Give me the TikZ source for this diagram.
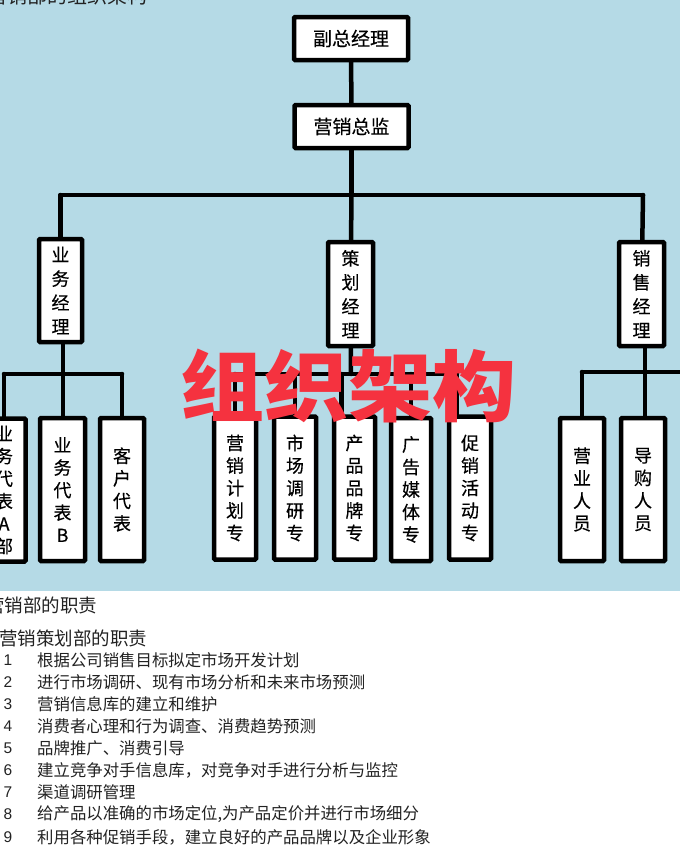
\documentclass[tikz,border=0pt]{standalone}
\usepackage{fontspec}
\setmainfont{Noto Sans CJK SC}
\newfontfamily\boxfont[FakeBold = 0.3]{Noto Sans CJK SC}
\newfontfamily\digitfont{Liberation Sans}
\usetikzlibrary{positioning}
\definecolor{sky}{HTML}{B5DAE6}
\definecolor{stamp}{HTML}{F5323F}
\definecolor{ink}{HTML}{222222}

\begin{document}
\begin{tikzpicture}[x = 1pt, y = -1pt]

\tikzset{
wide/.style = {rectangle, draw, fill = white, line width = 4.5pt, rounded corners = 1pt,
	inner sep = 0pt, minimum width = 114pt, minimum height = 43pt,
	font = \boxfont\fontsize{19}{23}\selectfont},
tall/.style = {rectangle, draw, fill = white, line width = 4.5pt, rounded corners = 1pt,
	inner sep = 0pt, align = center, minimum width = 43pt,
	font = \boxfont\fontsize{18}{24}\selectfont},
leaf/.style = {tall, minimum height = 143pt, font = \boxfont\fontsize{18}{22.5}\selectfont},
link/.style = {line width = 4.5pt, line cap = round},
heading/.style = {anchor = west, inner sep = 0pt, text = ink, font = \fontsize{18.5}{22}\selectfont},
item/.style = {anchor = west, inner sep = 0pt, text = ink, font = \fontsize{16.4}{20}\selectfont},
number/.style = {inner sep = 0pt, text = ink, font = \digitfont\fontsize{15.5}{20}\selectfont},
}

\useasboundingbox (0, 0) rectangle (680, 849);
\clip (0, 0) rectangle (680, 849);

%% Background
\fill [white] (0, 0) rectangle (680, 849);
\fill [sky] (0, 0) rectangle (680, 591);

%% Chart
% Top
\node at (351, 38.5) [wide] (vice) {副总经理};
\node at (351.5, 126.5) [wide] (chief) {营销总监};

% Managers
\node at (60.5, 290.5) [tall, minimum height = 103pt] (sales) {业\\务\\经\\理};
\node at (350.5, 294) [tall, minimum height = 104pt, minimum width = 45pt] (plan) {策\\划\\经\\理};
\node at (641.5, 294) [tall, minimum height = 104pt, minimum width = 45pt] (retail) {销\\售\\经\\理};

% Staff
\node at (4, 490) [leaf] (repa) {业\\务\\代\\表\\A\\部};
\node at (62.5, 489.5) [leaf, minimum width = 45pt] (repb) {业\\务\\代\\表\\B};
\node at (122, 489.5) [leaf, minimum width = 44pt] (client) {客\\户\\代\\表};
\node at (235, 488) [leaf, minimum width = 42pt] (mkt) {营\\销\\计\\划\\专};
\node at (295, 488) [leaf, minimum width = 42pt] (survey) {市\\场\\调\\研\\专};
\node at (354.5, 488) [leaf, minimum width = 41pt] (brand) {产\\品\\品\\牌\\专};
\node at (411, 489.5) [leaf, minimum width = 40pt] (media) {广\\告\\媒\\体\\专};
\node at (470, 488) [leaf, minimum width = 42pt] (promo) {促\\销\\活\\动\\专};
\node at (582, 489.5) [leaf, minimum width = 44pt] (shop) {营\\业\\人\\员};
\node at (643, 489.5) [leaf, minimum width = 44pt] (guide) {导\\购\\人\\员};

% Junctions
\coordinate (top) at (351.5, 195);
\coordinate (left) at (60.5, 195);
\coordinate (right) at (643, 195);
\coordinate (salesbus) at (63, 374);
\coordinate (planbus) at (351, 374);
\coordinate (retailbus) at (645, 372);
\coordinate (edge) at (680, 372);

% Links
\path [link] (vice) edge (chief);
\path [link] (chief) edge (top);
\path [link] (left) edge (right);
\path [link] (left) edge (sales);
\path [link] (top) edge (plan);
\path [link] (right) edge (retail);

\path [link] (sales.south -| salesbus) edge (salesbus);
\path [link] (repa.north |- salesbus) edge (client.north |- salesbus);
\path [link] (repa) edge (repa.north |- salesbus);
\path [link] (salesbus) edge (repb.north -| salesbus);
\path [link] (client) edge (client.north |- salesbus);

\path [link] (plan) edge (planbus);
\path [link] (mkt.north |- planbus) edge (promo.100 |- planbus);
\path [link] (mkt) edge (mkt.north |- planbus);
\path [link] (survey) edge (survey.north |- planbus);
\path [link] (brand.100) edge (brand.100 |- planbus);
\path [link] (media) edge (media.north |- planbus);
\path [link] (promo.100) edge (promo.100 |- planbus);

\path [link] (retail.south -| retailbus) edge (retailbus);
\path [link] (shop.north |- retailbus) edge (edge);
\path [link] (shop) edge (shop.north |- retailbus);
\path [link] (guide.north -| retailbus) edge (retailbus);

%% Overlay
\node at (348.5, 386) [inner sep = 0pt, text = stamp, yscale = 0.92, transform shape,
	font = \fontsize{84}{90}\selectfont\bfseries] (stamp) {组织架构};

%% Text
\node at (-13, -4) [anchor = west, inner sep = 0pt, text = ink, font = \fontsize{20}{24}\selectfont] (title) {营销部的组织架构};
\node at (-14, 605) [heading] (duty) {营销部的职责};
\node at (-1, 638) [heading] (dutyplan) {营销策划部的职责};

\node at (8, 660) [number] (n1) {1};
\node at (37, 660) [item] (t1) {根据公司销售目标拟定市场开发计划};
\node at (8, 682) [number] (n2) {2};
\node at (37, 682) [item] (t2) {进行市场调研、现有市场分析和未来市场预测};
\node at (8, 704) [number] (n3) {3};
\node at (37, 704) [item] (t3) {营销信息库的建立和维护};
\node at (8, 726) [number] (n4) {4};
\node at (37, 726) [item] (t4) {消费者心理和行为调查、消费趋势预测};
\node at (8, 748) [number] (n5) {5};
\node at (37, 748) [item] (t5) {品牌推广、消费引导};
\node at (8, 770) [number] (n6) {6};
\node at (37, 770) [item] (t6) {建立竞争对手信息库，对竞争对手进行分析与监控};
\node at (8, 792) [number] (n7) {7};
\node at (37, 792) [item] (t7) {渠道调研管理};
\node at (8, 814) [number] (n8) {8};
\node at (37, 814) [item] (t8) {给产品以准确的市场定位,为产品定价并进行市场细分};
\node at (8, 837) [number] (n9) {9};
\node at (37, 837) [item] (t9) {利用各种促销手段，建立良好的产品品牌以及企业形象};

\end{tikzpicture}
\end{document}
